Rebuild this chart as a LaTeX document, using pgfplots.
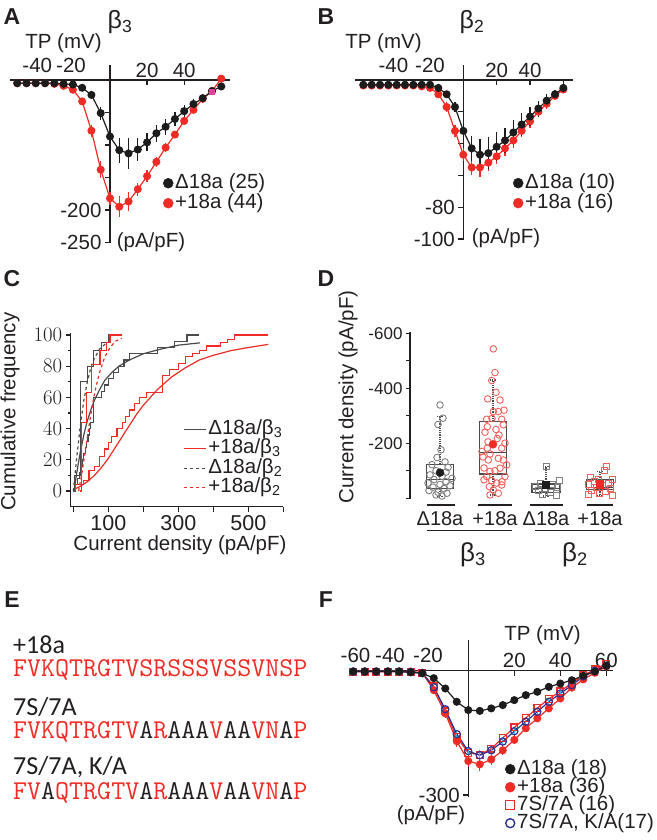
\documentclass[border=0pt]{standalone}
\usepackage{fontspec}
\setmainfont{Liberation Sans}
\newfontfamily\calfont{Carlito}
\usepackage{pgfplots}
\pgfplotsset{compat=1.18}
\usepgfplotslibrary{statistics}
\definecolor{pred}{HTML}{EE2B24}
\definecolor{pblk}{HTML}{1C1C1C}
\definecolor{pgray}{HTML}{4A4A4A}
\definecolor{pnavy}{HTML}{2E3192}
\definecolor{pcyan}{HTML}{3FB6E8}
\definecolor{pmag}{HTML}{E0409A}
\definecolor{ptxt}{HTML}{231F20}
\newcommand\fs[1]{\fontsize{#1}{#1}\selectfont}
\newcommand\R[1]{\textcolor{pred}{#1}}
\newcommand\K[1]{\textcolor{ptxt}{#1}}

\pgfplotsset{
  ivaxis/.style={
    scale only axis, clip=false,
    axis lines=middle, axis line style={-, line width=1.2pt, ptxt},
    tick style={line width=1.2pt, ptxt}, major tick length=5pt,
    tick align=outside,
    tick label style={font=\fs{20.5}, text=ptxt},
    xticklabel style={anchor=south, yshift=4pt},
    legend cell align=left,
    legend style={draw=none, fill=none, font=\fs{20.5}, text=ptxt,
      nodes={inner xsep=2pt, inner ysep=0pt, text height=14pt, text depth=4pt},
      row sep=2pt, anchor=north west},
    legend image code/.code={\draw[mark repeat=2,mark phase=2,##1] plot coordinates {(0pt,0pt)(5pt,0pt)(10pt,0pt)};},
  },
  errs/.style={error bars/y dir=both, error bars/y explicit, error bars/error mark=none,
    error bars/error bar style={line width=1.2pt}},
}

\begin{document}
\begin{tikzpicture}[font=\fs{20.5}, text=ptxt]
\path[use as bounding box] (0pt,0pt) rectangle (656pt,-840pt);

% ---------------- A: beta3 IV ----------------
\begin{axis}[ivaxis, at={(10pt,-242.5pt)}, anchor=south west,
  width=220pt, height=177.5pt,
  xmin=-53.9, xmax=64.7, ymin=-250, ymax=23,
  xtick={20,40}, xticklabels={20,40},
  extra x ticks={-39.2,-21}, extra x tick labels={-40,-20},
  extra x tick style={major tick length=0pt},
  ytick={-50,-100,-150,-200,-250}, yticklabels={,,,-200,-250},
  legend style={at={(0.682,0.397)}}]
\addplot[pred, line width=1.2pt, mark=*, mark size=3.4pt, errs, forget plot]
  table[x=x, y=y, y error=e] {
x y e
-50 -5 2
-45 -5 2
-40 -5 2
-35 -5 2
-30 -6 2
-25 -9 3
-20 -15 4
-15 -33 6
-10 -78 9
-5 -138 13
0 -182 10
5 -195 16
10 -187 14
15 -168 10
20 -148 9
25 -126 8
30 -104 7
35 -84 6
40 -63 5
45 -46 5
50 -29 4
55 -17 3
60 2 3
};
\addplot[pblk, line width=1.2pt, mark=*, mark size=3.4pt, errs, forget plot]
  table[x=x, y=y, y error=e] {
x y e
-50 -5 2
-45 -5 2
-40 -5 2
-35 -5 2
-30 -5 2
-25 -6 2
-20 -7 3
-15 -12 4
-10 -23 6
-5 -51 10
0 -87 10
5 -108 19
10 -113 24
15 -107 17
20 -96 14
25 -82 13
30 -72 12
35 -60 11
40 -48 10
45 -37 8
50 -28 6
55 -17 5
60 -10 4
};
\addplot[only marks, mark=square*, pmag, mark size=2.5pt, forget plot] coordinates {(55,-18)};
\addlegendimage{only marks, mark=*, pblk, mark size=5pt}
\addlegendentry{Δ18a (25)}
\addlegendimage{only marks, mark=*, pred, mark size=5pt}
\addlegendentry{+18a (44)}
\end{axis}
\node[font=\bfseries\fs{23}] at (12pt,-17pt) {A};
\node[font=\fs{25}] at (120pt,-22pt) {β\textsubscript{3}};
\node at (63.5pt,-43pt) {TP (mV)};
\node at (151pt,-242pt) {(pA/pF)};

% ---------------- B: beta2 IV ----------------
\begin{axis}[ivaxis, at={(355pt,-240pt)}, anchor=south west,
  width=218pt, height=175pt,
  xmin=-65, xmax=65.8, ymin=-100.6, ymax=9.4,
  xtick={20,40,60}, xticklabels={20,40,},
  extra x ticks={-42,-20}, extra x tick labels={-40,-20},
  extra x tick style={major tick length=0pt},
  ytick={-20,-40,-60,-80,-100}, yticklabels={,,,-80,-100},
  legend style={at={(0.711,0.389)}}]
\addplot[pred, line width=1.2pt, mark=*, mark size=3.4pt, errs, forget plot]
  table[x=x, y=y, y error=e] {
x y e
-60 -3.5 1
-55 -3.5 1
-50 -3.5 1
-45 -3.5 1
-40 -3.5 1
-35 -3.5 1
-30 -3.5 1
-25 -4 1
-20 -5 1
-15 -9 2
-10 -17 3
-5 -32 4
0 -47 4
5 -55 5
10 -55 6
15 -52 5
20 -48 5
25 -43 5
30 -38 5
35 -32 4
40 -26 4
45 -20 3
50 -15 3
55 -10 2
60 -6 2
};
\addplot[pblk, line width=1.2pt, mark=*, mark size=3.4pt, errs, forget plot]
  table[x=x, y=y, y error=e] {
x y e
-60 -3 1
-55 -3 1
-50 -3 1
-45 -3 1
-40 -3 1
-35 -3 1
-30 -3 1
-25 -3 1
-20 -3 1
-15 -5 1
-10 -9 2
-5 -17 3
0 -32 5
5 -43 8
10 -47 10
15 -46 10
20 -42 9
25 -38 8
30 -33 8
35 -28 7
40 -23 6
45 -18 5
50 -13 4
55 -9 3
60 -5 2
};
\addlegendimage{only marks, mark=*, pblk, mark size=5pt}
\addlegendentry{Δ18a (10)}
\addlegendimage{only marks, mark=*, pred, mark size=5pt}
\addlegendentry{+18a (16)}
\end{axis}
\node[font=\bfseries\fs{23}] at (326pt,-17pt) {B};
\node[font=\fs{25}] at (472pt,-22pt) {β\textsubscript{2}};
\node at (383.5pt,-43pt) {TP (mV)};
\node at (506pt,-238pt) {(pA/pF)};

% ---------------- C: cumulative ----------------
\begin{axis}[scale only axis, clip=false, at={(70.7pt,-506.7pt)}, anchor=south west,
  width=212.6pt, height=173.7pt,
  xmin=-7.5, xmax=600, ymin=-10, ymax=101.3,
  axis lines=left, axis line style={-, line width=1.2pt, ptxt},
  tick style={line width=1.2pt, ptxt}, major tick length=5pt, minor tick length=3pt,
  tick align=outside,
  xtick={0,100,...,600}, xticklabels={,100,,300,,500,},
  ytick={0,20,...,100}, minor ytick={10,30,...,90},
  tick label style={font=\fs{21.5}, text=ptxt},
  legend cell align=left,
  legend style={draw=none, fill=none, font=\fs{20.5}, text=ptxt,
    nodes={inner xsep=2pt, inner ysep=0pt, text height=14pt, text depth=4pt},
    row sep=1.5pt, anchor=north west, at={(0.514,0.511)}},
  legend image code/.code={\draw[#1] (0pt,0pt) -- (22pt,0pt);}]
% Delta18a / beta3 steps and fit
\addplot[pgray, line width=1.2pt, const plot, forget plot] coordinates {
  (3,0)(5,4)(12,8)(18,12)(22,16)(26,20)(30,24)(34,28)(38,32)(42,36)(46,40)(50,44)
  (57,60)(81,64)(90,68)(100,72)(115,76)(130,80)(145,84)(160,88)(240,92)(290,96)(325,100)(360,100)};
\addplot[pgray, line width=1.2pt, forget plot] coordinates {
  (2,0)(10,12)(20,25)(30,36)(40,45)(50,52)(60,58)(75,65)(90,71)(110,76)(130,80)
  (160,84)(200,88)(250,91)(300,93.5)(362,95)};
% +18a / beta3 steps and fit
\addplot[pred, line width=1.2pt, const plot, forget plot] coordinates {
  (0,0)(5,4)(30,7)(45,13)(60,16)(75,22)(90,27)(100,31)(110,35)(125,40)(140,44)
  (150,48)(160,52)(175,56)(190,60)(210,63)(255,74)(275,78)(300,82)(320,86)(340,88)
  (360,90)(380,93)(420,95)(440,97)(460,100)(557,100)};
\addplot[pred, line width=1.2pt, forget plot] coordinates {
  (0,1)(20,3)(40,6)(60,10)(80,15)(100,21)(120,28)(140,35)(160,42)(180,49)(200,55)
  (240,65)(280,73)(320,79)(360,84)(400,87)(450,90)(500,92)(557,94)};
% Delta18a / beta2 steps and fit
\addplot[pgray, line width=1.2pt, const plot, forget plot] coordinates {
  (2,0)(3,10)(21,70)(40,80)(57,90)(80,95)(100,100)(110,100)};
\addplot[pgray, line width=1.2pt, dashed, forget plot] coordinates {
  (0,0)(10,22)(20,42)(30,58)(40,70)(50,79)(60,85)(75,91)(90,94)(105,96)};
% +18a / beta2 steps and fit
\addplot[pred, line width=1.2pt, const plot, forget plot] coordinates {
  (19,0)(24,44)(38,63)(52,81)(76,90)(95,95)(105,100)(138,100)};
\addplot[pred, line width=1.2pt, dashed, forget plot] coordinates {
  (15,0)(25,12)(35,27)(45,42)(55,56)(65,67)(75,76)(90,86)(105,92)(120,96)(138,98)};
\addlegendimage{pgray, line width=1.2pt}
\addlegendentry{Δ18a/β\textsubscript{3}}
\addlegendimage{pred, line width=1.2pt}
\addlegendentry{+18a/β\textsubscript{3}}
\addlegendimage{pgray, line width=1.2pt, dashed}
\addlegendentry{Δ18a/β\textsubscript{2}}
\addlegendimage{pred, line width=1.2pt, dashed}
\addlegendentry{+18a/β\textsubscript{2}}
\end{axis}
\node[font=\bfseries\fs{23}] at (12pt,-279pt) {C};
\node[rotate=90] at (10pt,-411.7pt) {Cumulative frequency};
\node at (180pt,-545pt) {Current density (pA/pF)};

% ---------------- D: box plots ----------------
\begin{axis}[scale only axis, clip=false, at={(410pt,-499.3pt)}, anchor=south west,
  width=210pt, height=167.6pt,
  xmin=410, xmax=620, ymin=-4, ymax=605.5,
  axis x line=none, axis y line=left, axis line style={-, line width=1.2pt, ptxt},
  tick style={line width=1.2pt, ptxt}, major tick length=4pt, tick align=outside,
  ytick={0,100,...,600}, yticklabels={,,-200,,-400,,-600},
  tick label style={font=\fs{17}, text=ptxt},
  boxplot/draw direction=y,
  boxplot/every whisker/.style={densely dotted}]
% Delta18a beta3
\addplot[only marks, mark=o, mark size=3.3pt, gray, line width=0.9pt] coordinates {
  (440,339)(443,291)(438,268)(441,176)(437,148)(445,132)(432,122)(448,112)(436,100)
  (446,95)(430,85)(442,80)(452,72)(434,68)(446,60)(428,55)(440,50)(450,45)(433,40)
  (444,35)(429,28)(438,22)(447,18)(436,12)(442,8)};
\addplot[pgray, line width=1.2pt, boxplot prepared={draw position=440,
  lower whisker=5, lower quartile=35, median=67, upper quartile=124, upper whisker=297,
  box extend=26.6, whisker extend=6}] coordinates {};
\addplot[only marks, mark=*, pblk, mark size=4pt] coordinates {(440,93)};
% +18a beta3
\addplot[only marks, mark=o, mark size=3.3pt, pred!75, line width=0.9pt] coordinates {
  (493.3,543)(495,457)(491.7,428)(496,385)(487.7,361)(500,357)(493.3,315)(498.3,315)
  (486.7,287)(501.7,287)(487.3,260)(503.3,267)(497.3,217)(487.3,182)(501.7,182)
  (490,161)(498.3,145)(488.3,139)(503.3,139)(506.7,121)(500,109)(490,97)(505,79)
  (486.7,79)(484,67)(491.7,64)(496.7,55)(501.7,48)(489.3,42)(493.3,30)(498.3,18)
  (490,12)(482,170)(505,200)(485,240)(495,100)(502,60)(484,110)(499,230)(492,290)
  (504,320)(488,205)(496,250)(483,150)};
\addplot[pgray, line width=1.2pt, boxplot prepared={draw position=493,
  lower whisker=12, lower quartile=88, median=167, upper quartile=279, upper whisker=430,
  box extend=26.6, whisker extend=6}] coordinates {};
\addplot[only marks, mark=*, pred, mark size=4pt] coordinates {(493,196)};
% Delta18a beta2
\addplot[only marks, mark=square, mark size=3pt, gray, line width=0.9pt] coordinates {
  (546,115)(540,55)(552,50)(535,42)(557,40)(545,35)(538,28)(550,22)(542,15)(556,10)(559,66)};
\addplot[pgray, line width=1.2pt, boxplot prepared={draw position=546,
  lower whisker=8, lower quartile=20, median=36, upper quartile=52, upper whisker=115,
  box extend=28, whisker extend=6}] coordinates {};
\addplot[only marks, mark=square*, pblk, mark size=3.6pt] coordinates {(546,48)};
% +18a beta2
\addplot[only marks, mark=square, mark size=3pt, pred!75, line width=0.9pt] coordinates {
  (606,115)(604,100)(590,75)(598,70)(612,68)(594,62)(608,55)(588,50)(602,45)(596,40)
  (610,35)(591,30)(605,25)(599,18)(588,12)(612,10)};
\addplot[pgray, line width=1.2pt, boxplot prepared={draw position=600,
  lower whisker=10, lower quartile=33, median=39, upper quartile=67, upper whisker=97,
  box extend=26.6, whisker extend=6}] coordinates {};
\addplot[only marks, mark=square*, pred, mark size=3.6pt] coordinates {(600,51)};
\end{axis}
\node[font=\bfseries\fs{23}] at (326pt,-279pt) {D};
\node[rotate=90] at (348pt,-397pt) {Current density (pA/pF)};
\draw[line width=1.2pt, ptxt] (426.7pt,-505pt) -- (455pt,-505pt);
\draw[line width=1.2pt, ptxt] (478.3pt,-505pt) -- (511.7pt,-505pt);
\draw[line width=1.2pt, ptxt] (530pt,-505pt) -- (563.3pt,-505pt);
\draw[line width=1.2pt, ptxt] (586.7pt,-505pt) -- (613.3pt,-505pt);
\node[font=\fs{20}] at (440pt,-518.3pt) {Δ18a};
\node[font=\fs{20}] at (495pt,-518.3pt) {+18a};
\node[font=\fs{20}] at (546pt,-518.3pt) {Δ18a};
\node[font=\fs{20}] at (600pt,-518.3pt) {+18a};
\draw[line width=1pt, ptxt] (426.7pt,-530pt) -- (511.7pt,-530pt);
\draw[line width=1pt, ptxt] (535pt,-530pt) -- (613.3pt,-530pt);
\node[font=\fs{26}] at (473pt,-555pt) {β\textsubscript{3}};
\node[font=\fs{26}] at (575pt,-555pt) {β\textsubscript{2}};

% ---------------- E: sequences ----------------
\node[font=\bfseries\fs{23}] at (12pt,-600pt) {E};
\begin{scope}[every node/.style={anchor=west, inner xsep=0pt, inner ysep=0pt}]
\node[font=\calfont\fs{26}] at (13pt,-645pt) {+18a};
\node[font=\ttfamily\fs{27.2}\addfontfeature{FakeBold=0.6}] at (13pt,-670pt)
  {\R{FVKQTRGTVSRSSSVSSVNSP}};
\node[font=\calfont\fs{26}] at (13pt,-707pt) {7S/7A};
\node[font=\ttfamily\fs{27.2}\addfontfeature{FakeBold=0.6}] at (13pt,-732pt)
  {\R{FVKQTRGTV}\K{A}\R{R}\K{AAA}\R{V}\K{AA}\R{VN}\K{A}\R{P}};
\node[font=\calfont\fs{26}] at (13pt,-767pt) {7S/7A, K/A};
\node[font=\ttfamily\fs{27.2}\addfontfeature{FakeBold=0.6}] at (13pt,-793pt)
  {\R{FV}\K{A}\R{QTRGTV}\K{A}\R{R}\K{AAA}\R{V}\K{AA}\R{VN}\K{A}\R{P}};
\end{scope}

% ---------------- F: mutants IV ----------------
\begin{axis}[ivaxis, at={(350pt,-796.7pt)}, anchor=south west,
  width=263pt, height=156.7pt,
  xmin=-51.4, xmax=62.9, ymin=-304, ymax=74,
  xtick={20,40,60}, xticklabels={20,40,60},
  extra x ticks={-49,-34,-17.5}, extra x tick labels={-60,-40,-20},
  extra x tick style={major tick length=0pt},
  ytick={-300}, yticklabels={-300},
  legend style={at={(0.578,0.247)}, row sep=0pt}]
\addplot[pred, line width=1.2pt, mark=*, mark size=3.4pt, errs, forget plot]
  table[x=x, y=y, y error=e] {
x y e
-50 -2 1
-45 -2 1
-40 -2 1
-35 -2 1
-30 -2 1
-25 -2 1
-20 -5 2
-15 -47 5
-10 -103 10
-5 -170 14
0 -218 14
5 -226 16
10 -214 14
15 -192 12
20 -167 11
25 -139 10
30 -115 9
35 -91 8
40 -67 7
45 -41 6
50 -21 5
55 -5 4
60 10 4
};
\addplot[pred, line width=1.2pt, mark=square, mark size=3.4pt, mark options={fill=white}, forget plot]
  coordinates {
(-50,-2)(-45,-2)(-40,-2)(-35,-2)(-30,-2)(-25,-3)(-20,-5)(-15,-38)(-10,-98)(-5,-160)
(0,-198)(5,-203)(10,-188)(15,-162)(20,-137)(25,-114)(30,-90)(35,-68)(40,-50)(45,-30)
(50,-11)(55,3)(60,16)};
\addplot[pnavy, line width=1.2pt, mark=o, mark size=3.6pt, mark options={fill=white},
  errs, error bars/error bar style={pcyan, line width=1.2pt}, forget plot]
  table[x=x, y=y, y error=e] {
x y e
-50 -2 1
-45 -2 1
-40 -2 1
-35 -2 1
-30 -2 1
-25 -3 1
-20 -6 2
-15 -40 4
-10 -93 8
-5 -153 10
0 -194 10
5 -204 12
10 -192 11
15 -171 10
20 -146 10
25 -123 9
30 -99 8
35 -75 7
40 -55 6
45 -35 5
50 -14 4
55 0 3
60 12 3
};
\addplot[pblk, line width=1.2pt, mark=*, mark size=3.4pt, errs, forget plot]
  table[x=x, y=y, y error=e] {
x y e
-50 -2 1
-45 -2 1
-40 -2 1
-35 -2 1
-30 -2 1
-25 -4 1
-20 -6 1
-15 -18 2
-10 -43 3
-5 -75 4
0 -95 6
5 -97 7
10 -91 6
15 -83 5
20 -71 4
25 -59 4
30 -51 3
35 -39 3
40 -31 3
45 -23 2
50 -12 2
55 -2 2
60 12 2
};
\addlegendimage{only marks, mark=*, pblk, mark size=5pt}
\addlegendentry{Δ18a (18)}
\addlegendimage{only marks, mark=*, pred, mark size=5pt}
\addlegendentry{+18a (36)}
\addlegendimage{only marks, mark=square, pred, mark size=4.5pt, line width=1.2pt}
\addlegendentry{7S/7A (16)}
\addlegendimage{only marks, mark=o, pnavy, mark size=4.5pt, line width=1.4pt}
\addlegendentry{7S/7A, K/A(17)}
\end{axis}
\node[font=\bfseries\fs{23}] at (326pt,-600pt) {F};
\node at (542.5pt,-635pt) {TP (mV)};
\node at (431pt,-815pt) {(pA/pF)};
\end{tikzpicture}
\end{document}
